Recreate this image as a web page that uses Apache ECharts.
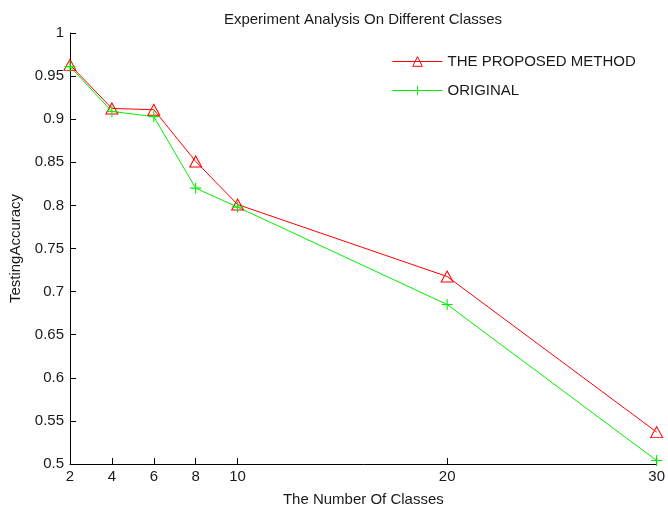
<!DOCTYPE html>
<html>
<head>
<meta charset="utf-8">
<script src="https://cdn.jsdelivr.net/npm/echarts@6/dist/echarts.min.js"></script>
<style>html,body{margin:0;padding:0;background:#fff}#c{width:668px;height:512px}</style>
</head>
<body>
<div id="c"></div>
<script>
const classes = [2, 4, 6, 8, 10, 20, 30];
const proposed = [0.963, 0.9125, 0.911, 0.851, 0.801, 0.7175, 0.537];
const original = [0.961, 0.909, 0.903, 0.820, 0.798, 0.685, 0.504];
const xTicks = [2, 4, 6, 8, 10, 20, 30];
const yTicks = [0.5, 0.55, 0.6, 0.65, 0.7, 0.75, 0.8, 0.85, 0.9, 0.95, 1];

const font = 'Liberation Sans, Arial, sans-serif';
const txt = '#1a1a1a';
const chart = echarts.init(document.getElementById('c'), null, {renderer: 'canvas'});
const pair = (xs, ys) => xs.map((x, i) => [x, ys[i]]);
const plusPath = 'path://M0,4.5H10V5.5H0Z M4.5,0H5.5V10H4.5Z';

chart.setOption({
  animation: false,
  backgroundColor: '#fff',
  title: {
    text: 'Experiment Analysis On Different Classes',
    left: 358, top: 7, textAlign: 'center',
    textStyle: {fontFamily: font, fontSize: 15, fontWeight: 'normal', color: txt}
  },
  legend: {
    orient: 'vertical', left: 387, top: 49, itemWidth: 50, itemHeight: 12, itemGap: 14,
    textStyle: {fontFamily: font, fontSize: 15, color: txt},
    lineStyle: {width: 1},
    itemStyle: {borderWidth: 1},
    data: ['THE PROPOSED METHOD', 'ORIGINAL']
  },
  grid: {left: 65, right: 6, top: 33, bottom: 43, containLabel: false},
  xAxis: {
    type: 'value', min: 2, max: 30,
    name: 'The Number Of Classes', nameLocation: 'middle', nameGap: 28,
    nameTextStyle: {fontFamily: font, fontSize: 15, color: txt},
    axisLine: {show: true, lineStyle: {color: '#000', width: 1}},
    axisTick: {show: true, inside: true, length: 6, customValues: xTicks, lineStyle: {color: '#000'}},
    axisLabel: {customValues: xTicks, fontFamily: font, fontSize: 15, color: txt, margin: 5},
    splitLine: {show: false}
  },
  yAxis: {
    type: 'value', min: 0.5, max: 1, interval: 0.05,
    name: 'TestingAccuracy', nameLocation: 'middle', nameGap: 47,
    nameTextStyle: {fontFamily: font, fontSize: 15, color: txt},
    axisLine: {show: true, lineStyle: {color: '#000', width: 1}},
    axisTick: {show: true, inside: true, length: 6, customValues: yTicks, lineStyle: {color: '#000'}},
    axisLabel: {customValues: yTicks, fontFamily: font, fontSize: 15, color: txt, margin: 6,
      formatter: v => String(Math.round(v * 100) / 100)},
    splitLine: {show: false}
  },
  series: [
    {
      name: 'THE PROPOSED METHOD', type: 'line', data: pair(classes, proposed),
      symbol: 'triangle', symbolSize: [12, 11], showAllSymbol: true,
      lineStyle: {color: '#ff0000', width: 1},
      itemStyle: {color: 'rgba(255,255,255,0)', borderColor: '#ff0000', borderWidth: 1},
      emphasis: {disabled: true}
    },
    {
      name: 'ORIGINAL', type: 'line', data: pair(classes, original),
      symbol: plusPath, symbolSize: 11, showAllSymbol: true,
      lineStyle: {color: '#00ee00', width: 1},
      itemStyle: {color: '#00ee00', borderWidth: 0},
      emphasis: {disabled: true}
    }
  ]
});
</script>
</body>
</html>
